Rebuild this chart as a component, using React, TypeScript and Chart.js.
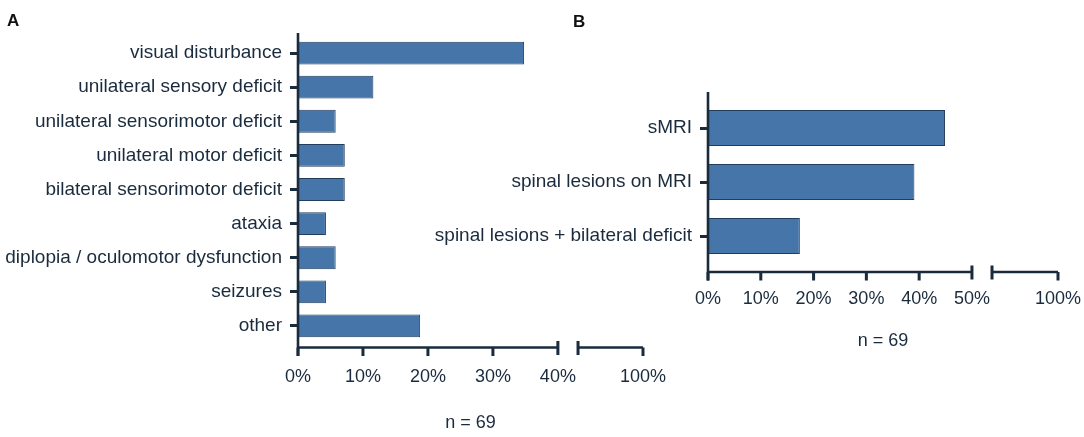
import React, { useEffect, useRef } from "react";
import { Chart, ChartOptions, Plugin } from "chart.js/auto";

// ---- data (percent of n = 69) ----
const SYMPTOM_LABELS = [
  "visual disturbance",
  "unilateral sensory deficit",
  "unilateral sensorimotor deficit",
  "unilateral motor deficit",
  "bilateral sensorimotor deficit",
  "ataxia",
  "diplopia / oculomotor dysfunction",
  "seizures",
  "other",
];
const SYMPTOM_PCT = [34.8, 11.6, 5.8, 7.2, 7.2, 4.3, 5.8, 4.3, 18.8];
const SYMPTOM_TICKS = [0, 10, 20, 30, 40, 100];

const MRI_LABELS = ["sMRI", "spinal lesions on MRI", "spinal lesions + bilateral deficit"];
const MRI_PCT = [44.9, 39.1, 17.4];
const MRI_TICKS = [0, 10, 20, 30, 40, 50, 100];

const N_LABEL = "n = 69";

const FONT = "'Liberation Sans', Arial, Helvetica, sans-serif";
const INK = "#1a2b3d";
const BAR_FILL = "#4676a9";
const BAR_EDGE = "#233e5c";

type Break = { mainMax: number; gap: number; tailFrom: number; tailTo: number };
type Area = { left: number; right: number; top: number; bottom: number };

function toDisplay(v: number, b: Break) {
  return v <= b.mainMax ? v : b.mainMax + b.gap + (v - b.tailFrom);
}
function fromDisplay(d: number, b: Break) {
  return d <= b.mainMax ? d : d - b.mainMax - b.gap + b.tailFrom;
}

// draws the broken x axis and the y axis line
function brokenAxisPlugin(b: Break, axisGap: number, yAbove: number): Plugin<"bar"> {
  return {
    id: "brokenAxis",
    afterDraw(chart) {
      const { ctx, chartArea } = chart;
      const xs = chart.scales.x;
      const axisY = chartArea.bottom + axisGap;
      const down = 8.5;
      ctx.save();
      ctx.strokeStyle = INK;
      ctx.lineCap = "butt";
      ctx.lineWidth = 2.6;

      ctx.beginPath();
      ctx.moveTo(chartArea.left, chartArea.top - yAbove);
      ctx.lineTo(chartArea.left, axisY + down);
      // first segment
      ctx.moveTo(chartArea.left, axisY);
      ctx.lineTo(xs.getPixelForValue(b.mainMax), axisY);
      // tail segment
      ctx.moveTo(xs.getPixelForValue(b.mainMax + b.gap), axisY);
      ctx.lineTo(xs.getPixelForValue(toDisplay(b.tailTo, b)), axisY);
      ctx.stroke();

      ctx.lineWidth = 3;
      ctx.beginPath();
      for (const t of xs.ticks) {
        if (t.value === b.mainMax) continue;
        const px = xs.getPixelForValue(t.value);
        ctx.moveTo(px, axisY);
        ctx.lineTo(px, axisY + down);
      }
      for (const d of [b.mainMax, b.mainMax + b.gap]) {
        const px = xs.getPixelForValue(d);
        ctx.moveTo(px, axisY - 6.5);
        ctx.lineTo(px, axisY + 7.5);
      }
      ctx.stroke();
      ctx.restore();
    },
  };
}

type PanelProps = {
  labels: string[];
  values: number[];
  ticks: number[];
  brk: Break;
  left: number;
  width: number;
  height: number;
  area: Area;
  axisGap: number;
  yAbove: number;
  labelPad: number;
  titlePad: number;
};

function BrokenBarPanel(p: PanelProps) {
  const canvasRef = useRef<HTMLCanvasElement | null>(null);

  useEffect(() => {
    const ctx = canvasRef.current?.getContext("2d");
    if (!ctx) return;

    const tickSize = 18;
    const lineH = tickSize * 1.2;
    const bottomPad = p.height - p.area.bottom - p.labelPad - p.titlePad - 2 * lineH;

    const options: ChartOptions<"bar"> = {
      indexAxis: "y",
      responsive: true,
      maintainAspectRatio: false,
      animation: false,
      layout: { padding: { top: p.area.top, right: p.width - p.area.right, bottom: bottomPad, left: 0 } },
      scales: {
        x: {
          type: "linear",
          min: 0,
          max: toDisplay(p.brk.tailTo, p.brk),
          // invisible tick length pushes the labels down without widening the side padding
          grid: { display: false, drawTicks: true, tickLength: p.labelPad },
          border: { display: false },
          ticks: {
            color: INK,
            font: { family: FONT, size: tickSize },
            padding: 0,
            maxRotation: 0,
            autoSkip: false,
            callback: (v) => `${Math.round(fromDisplay(Number(v), p.brk))}%`,
          },
          afterBuildTicks: (s) => {
            s.ticks = p.ticks.map((v) => ({ value: toDisplay(v, p.brk) }));
          },
          afterFit: (s) => {
            s.height = p.labelPad + lineH;
          },
        },
        y: {
          type: "category",
          grid: {
            display: true,
            drawOnChartArea: false,
            drawTicks: true,
            tickLength: 8,
            tickWidth: 3,
            tickColor: INK,
            offset: false,
          },
          border: { display: false },
          ticks: { color: INK, font: { family: FONT, size: 19 }, padding: 8, autoSkip: false },
          afterFit: (s) => {
            s.width = p.area.left;
          },
        },
      },
      plugins: {
        legend: { display: false },
        tooltip: { enabled: false },
        title: {
          display: true,
          position: "bottom",
          fullSize: false,
          text: N_LABEL,
          color: INK,
          font: { family: FONT, size: tickSize, weight: "normal" },
          padding: { top: p.titlePad, bottom: 0 },
        },
      },
    };

    const chart = new Chart(ctx, {
      type: "bar",
      data: {
        labels: p.labels,
        datasets: [
          {
            data: p.values.map((v) => toDisplay(v, p.brk)),
            backgroundColor: BAR_FILL,
            borderColor: BAR_EDGE,
            borderWidth: 1,
            barPercentage: 0.67,
            categoryPercentage: 1,
          },
        ],
      },
      options,
      plugins: [brokenAxisPlugin(p.brk, p.axisGap, p.yAbove)],
    });

    return () => chart.destroy();
  }, [p]);

  return (
    <div style={{ position: "absolute", left: p.left, top: 0, width: p.width, height: p.height }}>
      <canvas ref={canvasRef} />
    </div>
  );
}

const BREAK_A: Break = { mainMax: 40, gap: 3.1, tailFrom: 90, tailTo: 100 };
const BREAK_B: Break = { mainMax: 50, gap: 3.8, tailFrom: 87.5, tailTo: 100 };

const PANEL_A: PanelProps = {
  labels: SYMPTOM_LABELS,
  values: SYMPTOM_PCT,
  ticks: SYMPTOM_TICKS,
  brk: BREAK_A,
  left: 0,
  width: 680,
  height: 437,
  area: { left: 298, right: 643, top: 36, bottom: 343 },
  axisGap: 4.5,
  yAbove: 3,
  labelPad: 23.7,
  titlePad: 23.9,
};

const PANEL_B: PanelProps = {
  labels: MRI_LABELS,
  values: MRI_PCT,
  ticks: MRI_TICKS,
  brk: BREAK_B,
  left: 400,
  width: 684,
  height: 437,
  area: { left: 308, right: 658, top: 101, bottom: 263 },
  axisGap: 9,
  yAbove: 9,
  labelPad: 25.2,
  titlePad: 20.4,
};

const letterStyle: React.CSSProperties = {
  position: "absolute",
  fontFamily: FONT,
  fontWeight: "bold",
  fontSize: 17,
  lineHeight: "17px",
  color: "#111",
};

export default function App() {
  return (
    <div style={{ position: "absolute", left: 0, top: 0, width: 1084, height: 437, background: "#fff", overflow: "hidden" }}>
      <BrokenBarPanel {...PANEL_A} />
      <BrokenBarPanel {...PANEL_B} />
      <div style={{ ...letterStyle, left: 7, top: 12 }}>A</div>
      <div style={{ ...letterStyle, left: 573, top: 13 }}>B</div>
    </div>
  );
}
